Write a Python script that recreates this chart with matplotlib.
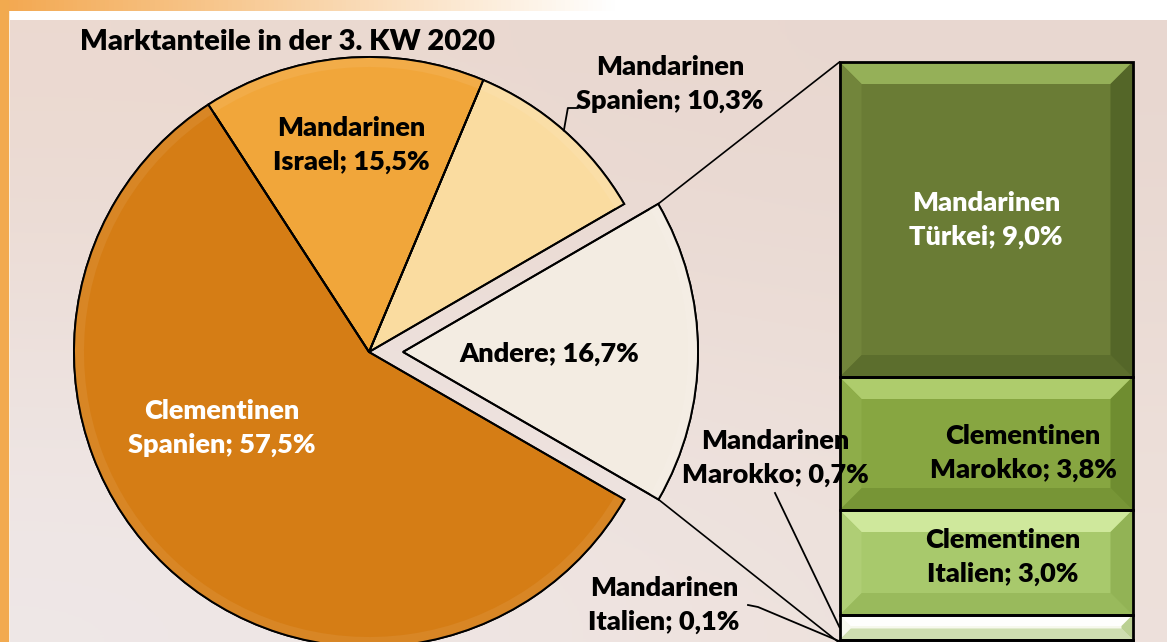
import numpy as np
import matplotlib.pyplot as plt
from matplotlib.patches import Rectangle, Polygon, Wedge
from matplotlib.colors import to_rgb

plt.rcParams['font.family'] = ['Lato', 'DejaVu Sans']

# pie data (counter-clockwise, starting with the exploded slice)
pie_labels = ['Andere; 16,7%', 'Mandarinen\nSpanien; 10,3%',
              'Mandarinen\nIsrael; 15,5%', 'Clementinen\nSpanien; 57,5%']
pie_values = [16.7, 10.3, 15.5, 57.5]
pie_colors = ['#F3ECE2', '#FADCA0', '#F1A63A', '#D57D15']

# bar data (stacked from bottom to top) - breakdown of "Andere"
bar_labels = ['Mandarinen\nItalien; 0,1%', 'Mandarinen\nMarokko; 0,7%',
              'Clementinen\nItalien; 3,0%', 'Clementinen\nMarokko; 3,8%',
              'Mandarinen\nTürkei; 9,0%']
bar_values = [0.1, 0.7, 3.0, 3.8, 9.0]
bar_colors = ['#CFCFC4', '#F6F8EC', '#A8C96C', '#87A641', '#6A7C35']
bar_light = ['#EDEDE6', '#FFFFFF', '#D6EDA5', '#B5D373', '#9DB95E']
bar_dark = ['#9A9A90', '#B3CC88', '#8FB052', '#6C8A2E', '#526427']

W, H = 1167, 642


def mix(c1, c2, t):
    a, b = np.array(to_rgb(c1)), np.array(to_rgb(c2))
    return tuple(a + (b - a) * t)


fig = plt.figure(figsize=(W / 100, H / 100), dpi=100)
ax = fig.add_axes([0, 0, 1, 1])
fig.patch.set_facecolor('white')

# background: orange frame + beige photo-like area
corners = np.array([[[235, 217, 208], [232, 215, 208]],
                    [[239, 232, 232], [238, 225, 219]]]) / 255
ax.imshow(corners, extent=(10, W, 0, H - 20), interpolation='bicubic',
          aspect='auto', zorder=0)
grad = np.linspace(0, 1, 256)
band = np.array([mix('#F3A850', 'white', min(1, g * 1.9)) for g in grad])[None, :, :]
ax.imshow(band, extent=(0, W, H - 11, H), aspect='auto', zorder=0)
ax.add_patch(Rectangle((0, 0), 8, H, color='#F2AA4F', zorder=0.5))

# pie
center = (369, 290)
radius = 295
wedges, _ = ax.pie(pie_values, colors=pie_colors, startangle=-30, counterclock=True,
                   radius=radius, center=center, explode=[34, 0, 0, 0],
                   wedgeprops=dict(edgecolor='black', linewidth=1.4))
for w in wedges:
    w.set_zorder(2)
    # soft bevel along the rim
    ax.add_patch(Wedge(w.center, w.r, w.theta1, w.theta2, width=10,
                       color=mix(w.get_facecolor(), 'white', 0.07), lw=0, zorder=2.1))
    ax.add_patch(Wedge(w.center, w.r, w.theta1, w.theta2, fill=False,
                       ec='black', lw=1.4, zorder=2.2))

# stacked bar
bar_x, bar_w = 986, 293
bar_top = H - 62
scale = 35.0
bottoms = bar_top - scale * np.cumsum(bar_values[::-1])[::-1]
bars = ax.bar(bar_x, [v * scale for v in bar_values], bottom=bottoms, width=bar_w,
              color=bar_colors, zorder=3)
for p, base, light, dark in zip(bars, bar_colors, bar_light, bar_dark):
    x0, y0 = p.get_x(), p.get_y()
    w, h = p.get_width(), p.get_height()
    b = min(22, h * 0.45)
    facets = [
        ([(x0, y0 + h), (x0 + w, y0 + h), (x0 + w - b, y0 + h - b), (x0 + b, y0 + h - b)],
         mix(base, light, 0.85)),
        ([(x0, y0), (x0 + w, y0), (x0 + w - b, y0 + b), (x0 + b, y0 + b)],
         mix(base, dark, 0.6)),
        ([(x0, y0), (x0, y0 + h), (x0 + b, y0 + h - b), (x0 + b, y0 + b)],
         mix(base, light, 0.15)),
        ([(x0 + w, y0), (x0 + w, y0 + h), (x0 + w - b, y0 + h - b), (x0 + w - b, y0 + b)],
         mix(base, dark, 0.9)),
    ]
    for pts, c in facets:
        ax.add_patch(Polygon(pts, closed=True, color=c, lw=0, zorder=3.5))
    ax.add_patch(Rectangle((x0, y0), w, h, fill=False, ec='black', lw=2, zorder=4))

# connector lines between exploded slice and bar
andere = wedges[0]
cx, cy = andere.center
bar_left = bars[0].get_x()
for ang, yb in [(andere.theta2, bar_top), (andere.theta1, bars[0].get_y())]:
    px = cx + andere.r * np.cos(np.radians(ang))
    py = cy + andere.r * np.sin(np.radians(ang))
    ax.plot([px, bar_left], [py, yb], color='black', lw=1.2, zorder=2.5)

# labels inside the pie
txt = dict(ha='center', va='center', fontsize=19.5, fontweight='heavy',
           linespacing=1.45, zorder=6)
ax.text(549, H - 354, pie_labels[0], color='black', **txt)
ax.text(670, H - 84, pie_labels[1], color='black', **txt)
ax.text(351, H - 145, pie_labels[2], color='black', **txt)
ax.text(222, H - 428, pie_labels[3], color='white', **txt)

# leader for Mandarinen Spanien
sp = wedges[1]
mid = np.radians((sp.theta1 + sp.theta2) / 2)
rx, ry = center[0] + radius * np.cos(mid), center[1] + radius * np.sin(mid)
ax.plot([rx, rx + 4, rx + 14], [ry, H - 108, H - 108], color='black', lw=1.3, zorder=5)

# bar labels
ax.text(986, H - 220, bar_labels[4], color='white', **txt)
ax.text(1023, H - 453, bar_labels[3], color='black', **txt)
ax.text(1003, H - 557, bar_labels[2], color='black', **txt)
ax.text(775, H - 458, bar_labels[1], color='black', **txt)
ax.text(664, H - 605, bar_labels[0], color='black', **txt)

# leaders for the small bar segments
seg1 = bars[1]
ax.plot([775, bar_left], [H - 493, seg1.get_y() + seg1.get_height() / 2],
        color='black', lw=1.3, zorder=5)
seg0 = bars[0]
ax.plot([748, 758, bar_left], [H - 605, H - 607, seg0.get_y() + seg0.get_height() / 2],
        color='black', lw=1.3, zorder=5)

ax.text(80, H - 42, 'Marktanteile in der 3. KW 2020', ha='left', va='center',
        fontsize=21, fontweight='heavy', color='black', zorder=6)

ax.set_xlim(0, W)
ax.set_ylim(0, H)
ax.set_aspect('auto')
ax.axis('off')
fig.savefig('out.png', dpi=100)
